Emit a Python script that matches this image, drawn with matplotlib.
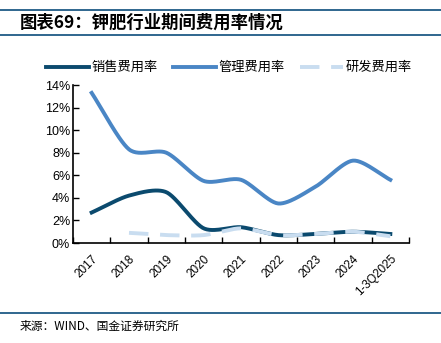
import matplotlib
matplotlib.use("Agg")
import matplotlib.pyplot as plt
from matplotlib.lines import Line2D
import numpy as np

plt.rcParams['font.family'] = ['Liberation Sans', 'Noto Sans CJK SC', 'DejaVu Sans']

# data (percent)
years = ['2017', '2018', '2019', '2020', '2021', '2022', '2023', '2024', '1-3Q2025']
sales = [2.7, 4.2, 4.5, 1.3, 1.4, 0.7, 0.8, 1.0, 0.8]
admin = [13.3, 8.3, 8.0, 5.5, 5.6, 3.5, 5.0, 7.3, 5.6]
rnd = [np.nan, 0.9, 0.7, 0.7, 1.3, 0.7, 0.8, 1.0, 0.6]
names = ['销售费用率', '管理费用率', '研发费用率']
colors = ['#0B4A6E', '#4A86C5', '#C9DDF0']


def smooth(x, y, n=30, k=0.8):
    # hermite curve through the points, for drawing only (like excel smoothed lines)
    x = np.asarray(x, float)
    y = np.asarray(y, float)
    px, py = [], []
    for i in range(len(x) - 1):
        i0 = max(i - 1, 0)
        i3 = min(i + 2, len(x) - 1)
        t = np.linspace(0, 1, n)
        p0, p1, p2, p3 = [np.array([x[j], y[j]]) for j in (i0, i, i + 1, i3)]
        m1 = (p2 - p0) / (i + 1 - i0) * k
        m2 = (p3 - p1) / (i3 - i) * k
        h00 = 2 * t**3 - 3 * t**2 + 1
        h10 = t**3 - 2 * t**2 + t
        h01 = -2 * t**3 + 3 * t**2
        h11 = t**3 - t**2
        pts = (np.outer(h00, p1) + np.outer(h10, m1) + np.outer(h01, p2) + np.outer(h11, m2))
        px.extend(pts[:, 0])
        py.extend(pts[:, 1])
    return np.array(px), np.array(py)


fig = plt.figure(figsize=(4.41, 3.43), dpi=100)
ax = fig.add_axes([73 / 441, 1 - 243 / 343, (409 - 73) / 441, (243 - 85) / 343])

x = np.arange(len(years))
for vals, col, i in zip([sales, admin, rnd], colors, range(3)):
    v = np.array(vals, float)
    ok = ~np.isnan(v)
    sx, sy = smooth(x[ok], v[ok])
    if i == 2:
        ax.plot(sx, sy, color=col, lw=2.8, dashes=(5, 3), solid_capstyle='butt', zorder=3)
    else:
        ax.plot(sx, sy, color=col, lw=2.8, zorder=2 + (1 - i))

ax.set_xlim(-0.5, len(years) - 0.5)
ax.set_ylim(0, 14)
ax.set_yticks(np.arange(0, 15, 2))
ax.set_yticklabels([f'{v}%' for v in range(0, 15, 2)], fontsize=9)
ax.set_xticks(x)
ax.set_xticklabels(years, rotation=45, ha='right', rotation_mode='anchor', fontsize=8.5)
ax.tick_params(axis='x', length=0, pad=7)
ax.set_xticks(np.arange(-0.5, len(years)), minor=True)
ax.tick_params(axis='x', which='minor', direction='in', length=4, width=1)
ax.tick_params(axis='y', direction='in', length=4, width=1, pad=2)
for s in ['top', 'right']:
    ax.spines[s].set_visible(False)
for s in ['left', 'bottom']:
    ax.spines[s].set_linewidth(1.2)

handles = [Line2D([], [], color=colors[0], lw=2.8),
           Line2D([], [], color=colors[1], lw=2.8),
           Line2D([], [], color=colors[2], lw=2.8, dashes=(5, 3))]
fig.legend(handles, names, loc='center', bbox_to_anchor=(229 / 441, 1 - 68 / 343), ncol=3,
           frameon=False, fontsize=9.5, handlelength=3.2, handletextpad=0.2, columnspacing=1.2)

# title and rules
rule = '#1F5B86'
fig.add_artist(Line2D([0, 1], [1 - 10 / 343] * 2, color=rule, lw=1.3))
fig.add_artist(Line2D([0, 1], [1 - 35 / 343] * 2, color=rule, lw=1.3))
fig.add_artist(Line2D([0, 1], [1 - 313 / 343] * 2, color=rule, lw=1.3))
fig.text(20 / 441, 1 - 23 / 343, '图表69：钾肥行业期间费用率情况', fontsize=12.5, fontweight='bold',
         fontstyle='italic', va='center', ha='left', family=['Noto Sans CJK SC', 'DejaVu Sans'])
fig.text(20 / 441, 1 - 326 / 343, '来源：WIND、国金证券研究所', fontsize=8.5, va='center', ha='left',
         family=['Noto Sans CJK SC', 'DejaVu Sans'])

fig.savefig('out.png', dpi=100)
